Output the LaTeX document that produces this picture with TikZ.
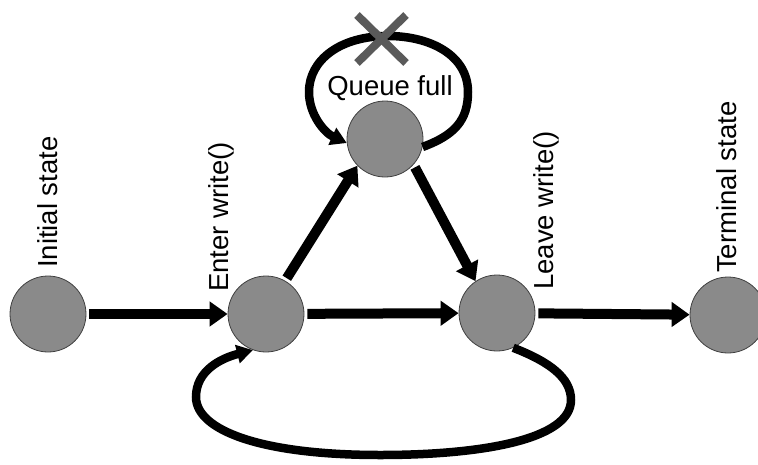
\documentclass[tikz,border=0pt]{standalone}
\usepackage{fontspec}
\setmainfont{Liberation Sans}
\usetikzlibrary{arrows.meta}
\definecolor{statefill}{HTML}{8A8A8A}
\definecolor{xmark}{HTML}{5A5A5A}
\tikzset{
  state/.style={circle, fill=statefill, draw=black!75, line width=0.8pt, minimum size=76pt, inner sep=0pt},
  lbl/.style={inner sep=0pt, font=\fontsize{27.5}{32}\selectfont},
  vlbl/.style={lbl, rotate=90, anchor=west},
  arr/.style={line width=10pt, -{Triangle[length=18pt,width=24pt]}, shorten <=3pt},
  looparr/.style={line width=8.5pt, -{Triangle[length=16pt,width=18pt]}},
}
\begin{document}
\begin{tikzpicture}[x=1pt,y=-1pt]
\useasboundingbox (0,0) rectangle (758,464);
\node[state] (i) at (48,314) {};
\node[state] (e) at (266,314) {};
\node[state] (q) at (385,139) {};
\node[state] (l) at (497,313) {};
\node[state] (t) at (728,315) {};

\node[vlbl] (li) at (48,268) {Initial state};
\node[vlbl] (le) at (221,292) {Enter write()};
\node[vlbl] (ll) at (546,290) {Leave write()};
\node[vlbl] (lt) at (727,273) {Terminal state};
\node[lbl] (lq) at (390,88) {Queue full};

\draw[arr] (i) -- (e);
\draw[arr] (e) -- (l);
\draw[arr] (l) -- (t);
\draw[arr] (e.60) -- (q.224);
\draw[arr] (q.-42) -- (l.124);

\draw[looparr] (q.-12) .. controls (455,135) and (468,120) .. (468,92)
  .. controls (468,55) and (430,36) .. (388,36)
  .. controls (340,36) and (309,60) .. (309,92)
  .. controls (309,115) and (325,133) .. (q.186);

\draw[looparr] (l.-65) .. controls (550,362) and (571,378) .. (571,400)
  .. controls (571,440) and (480,455) .. (380,455)
  .. controls (260,455) and (196,430) .. (196,397)
  .. controls (196,370) and (222,358) .. (e.-110);

\draw[xmark, line width=8pt] (357,15) -- (406,63);
\draw[xmark, line width=8pt] (357,63) -- (406,15);
\end{tikzpicture}
\end{document}
